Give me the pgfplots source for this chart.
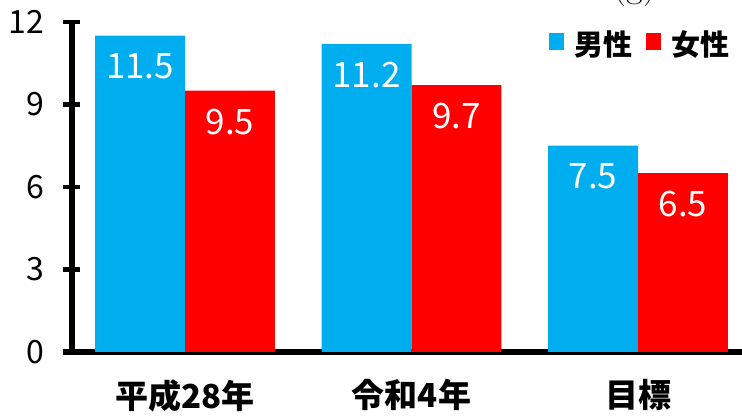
\documentclass[border=0pt]{standalone}
\usepackage{fontspec}
\setmainfont{Noto Sans CJK JP}
\newfontfamily\lmfont{Latin Modern Roman}
\usepackage{pgfplots}
\pgfplotsset{compat=1.18}
\definecolor{male}{RGB}{0,174,239}
\definecolor{female}{RGB}{255,0,0}
\begin{document}
\begin{tikzpicture}
\begin{axis}[
    scale only axis, width=670pt, height=330pt,
    xmin=-0.499, xmax=2.459, ymin=0, ymax=12,
    ybar=0pt, bar width=0.397,
    axis x line*=bottom, axis y line*=left,
    axis line style={line width=6pt},
    x axis line style={shorten <=-9pt},
    xtick={0,1,2}, xticklabels={平成28年,令和4年,目標},
    xtick style={draw=none},
    ytick={0,3,6,9,12},
    ytick align=center, major tick length=17pt,
    ytick style={line width=4.5pt, black},
    /pgf/number format/assume math mode=true,
    yticklabel style={font=\fontsize{32}{36}\selectfont, xshift=-16pt},
    xticklabel style={font=\bfseries\fontsize{33}{38}\selectfont, yshift=-7pt},
    nodes near coords,
    nodes near coords style={font=\fontsize{35}{38}\selectfont, white, anchor=center, yshift=-31pt,
        /pgf/number format/fixed, /pgf/number format/precision=1, /pgf/number format/fixed zerofill},
    legend style={draw=none, fill=none, legend columns=2, at={(rel axis cs:1,1)}, anchor=north east,
        xshift=-13pt, yshift=-9pt, inner sep=0pt, outer sep=0pt,
        nodes={inner sep=0pt}, font=\bfseries\fontsize{29}{32}\selectfont,
        /tikz/every odd column/.append style={column sep=10pt},
        /tikz/every even column/.append style={column sep=14pt}},
    legend image code/.code={\fill[#1] (0pt,-6pt) rectangle (15pt,11pt);},
    clip=false,
]
\addplot[fill=male, draw=none] coordinates {(0,11.5) (1,11.2) (2,7.5)};
\addplot[fill=female, draw=none] coordinates {(0,9.5) (1,9.7) (2,6.5)};
\legend{男性,女性}
\coordinate (o) at (rel axis cs:0,0);
\end{axis}
\node[anchor=base, font=\lmfont\fontsize{36}{40}\selectfont] at ([shift={(563pt,354pt)}]o) {(g)};
\pgfresetboundingbox
\path (o) ++(-72pt,-68pt) rectangle ++(742pt,420pt);
\end{tikzpicture}
\end{document}
